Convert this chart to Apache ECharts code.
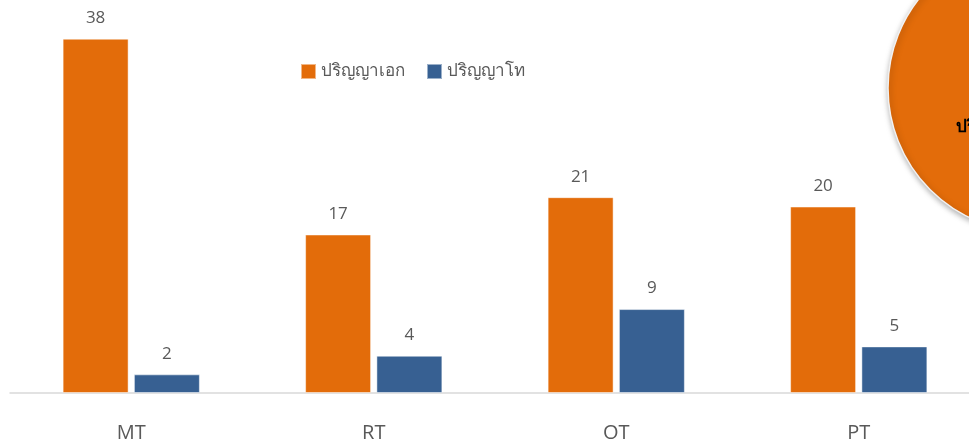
<!DOCTYPE html>
<html><head><meta charset="utf-8">
<script src="https://cdn.jsdelivr.net/npm/echarts@6/dist/echarts.min.js"></script>
<style>html,body{margin:0;padding:0;background:#fff;overflow:hidden;width:969px;height:443px}#c{width:990px;height:443px}</style>
</head><body><div id="c"></div>
<script>
const categories = ['MT', 'RT', 'OT', 'PT'];
const seriesNames = ['ปริญญาเอก', 'ปริญญาโท'];
const phdValues = [38, 17, 21, 20];
const masterValues = [2, 4, 9, 5];

const chart = echarts.init(document.getElementById('c'));
const labelStyle = { show: true, position: 'top', distance: 12, color: '#595959', fontSize: 17, fontFamily: 'Open Sans, sans-serif' };
chart.setOption({
  animation: false,
  legend: {
    left: 295, top: 58, itemWidth: 15, itemHeight: 15, itemGap: 21,
    icon: 'rect',
    textStyle: { color: '#595959', fontSize: 17, fontFamily: 'Noto Sans, sans-serif' },
    data: seriesNames
  },
  grid: { left: 10, top: 20, width: 970, height: 375, containLabel: false },
  xAxis: {
    type: 'category', data: categories,
    axisLine: { lineStyle: { color: '#D9D9D9', width: 1.5 } },
    axisTick: { show: false },
    axisLabel: { color: '#595959', fontSize: 20, margin: 30, fontFamily: 'Open Sans, sans-serif' }
  },
  yAxis: { type: 'value', min: 0, max: 40, show: false, splitLine: { show: false } },
  series: [
    { name: seriesNames[0], type: 'bar', data: phdValues, barWidth: 66, barGap: '8%',
      itemStyle: { color: '#E36C0A', borderColor: 'rgba(255,255,255,0.5)', borderWidth: 1 }, label: labelStyle },
    { name: seriesNames[1], type: 'bar', data: masterValues, barWidth: 66,
      itemStyle: { color: '#376092', borderColor: 'rgba(255,255,255,0.5)', borderWidth: 1 }, label: labelStyle }
  ],
  graphic: [
    { type: 'circle', shape: { cx: 1032, cy: 88, r: 144 },
      style: { fill: '#E36C0A', stroke: '#F2F2F2', lineWidth: 1.5, shadowBlur: 6, shadowColor: 'rgba(0,0,0,0.35)', shadowOffsetX: 1, shadowOffsetY: 2 } },
    { type: 'text', left: 956, top: 119,
      style: { text: 'ปริญญาเอก', fill: '#000', font: 'bold 17px Noto Sans, sans-serif' } }
  ]
});
</script></body></html>
